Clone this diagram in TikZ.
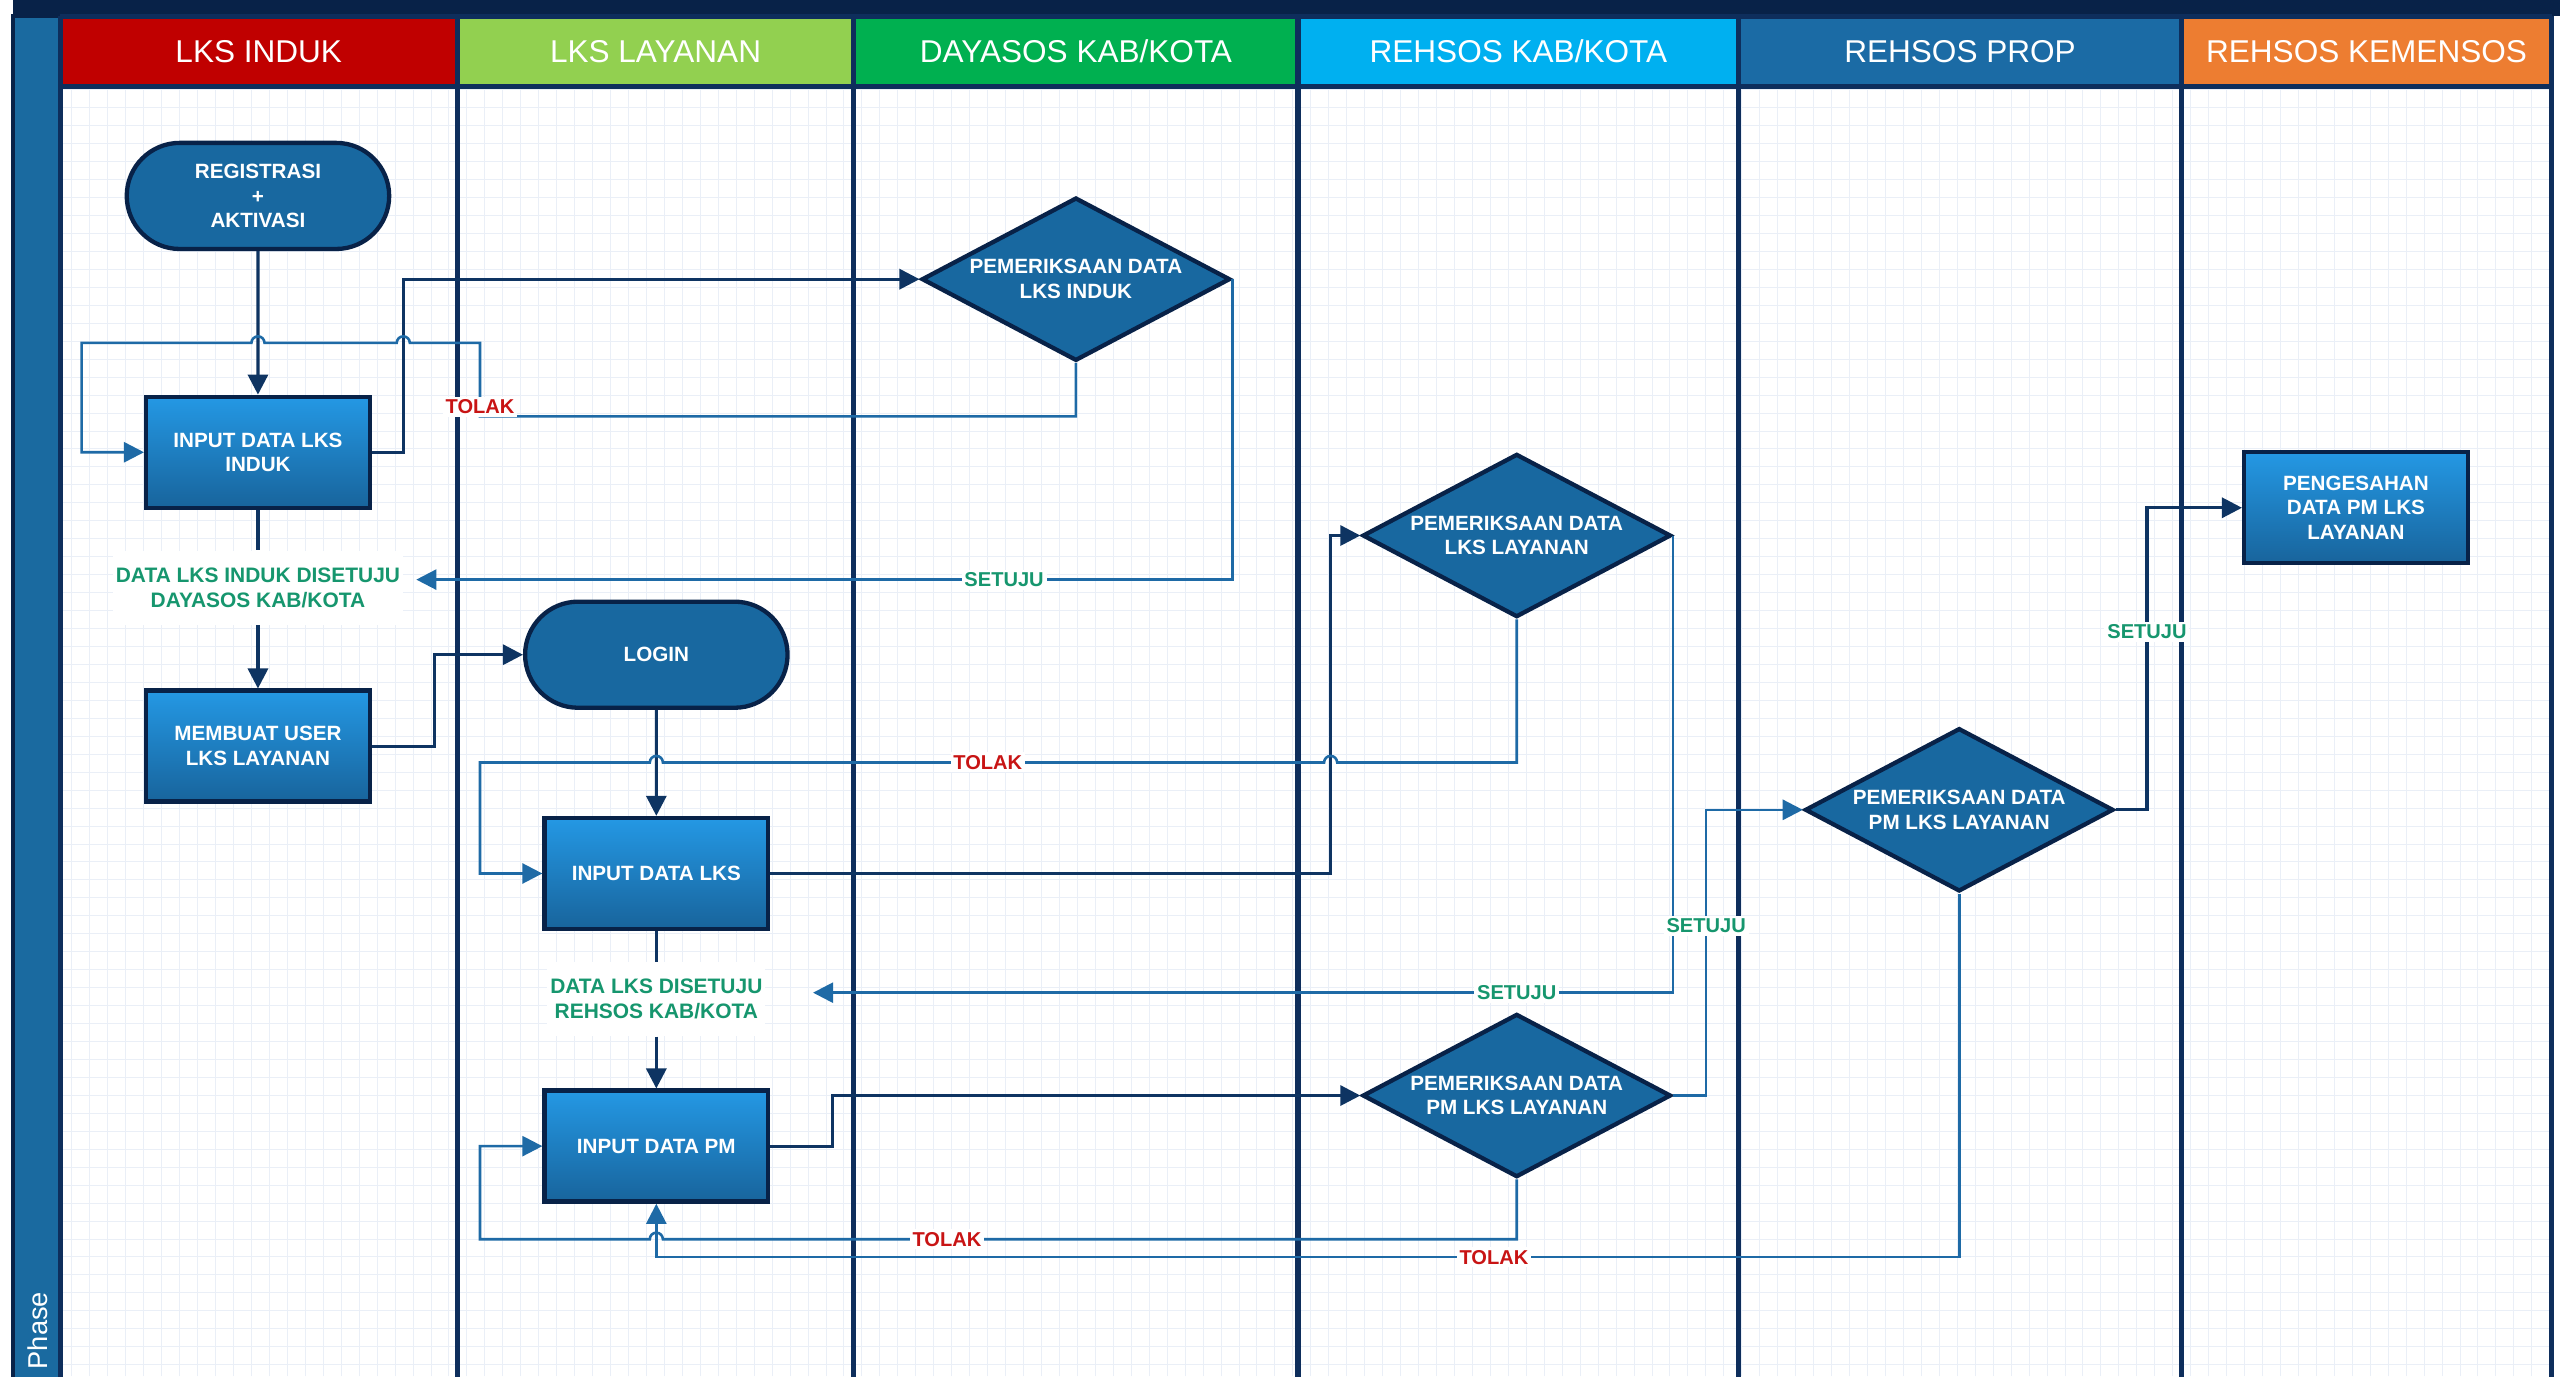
\documentclass[tikz,border=0pt]{standalone}
\usepackage{fontspec}
\setmainfont{Liberation Sans}
\usetikzlibrary{shapes.geometric,shapes.misc,arrows.meta,positioning,calc}

\definecolor{navy}{RGB}{8,34,72}
\definecolor{laneline}{RGB}{14,46,92}
\definecolor{phaseblue}{RGB}{26,106,160}
\definecolor{boxtop}{RGB}{36,152,228}
\definecolor{boxbot}{RGB}{24,100,156}
\definecolor{shapeblue}{RGB}{24,104,160}
\definecolor{flowline}{RGB}{14,52,98}
\definecolor{loopline}{RGB}{30,106,166}
\definecolor{okgreen}{RGB}{22,150,110}
\definecolor{nored}{RGB}{200,20,20}
\definecolor{gridline}{RGB}{234,239,247}
\definecolor{hdrred}{RGB}{192,0,0}
\definecolor{hdrlime}{RGB}{146,208,80}
\definecolor{hdrgreen}{RGB}{0,176,80}
\definecolor{hdrsky}{RGB}{0,176,240}
\definecolor{hdrblue}{RGB}{27,107,165}
\definecolor{hdrorange}{RGB}{237,125,49}

\newcommand{\boxfont}{\bfseries\fontsize{7.2}{8.6}\selectfont}

\begin{document}
\begin{tikzpicture}[x=0.02cm, y=-0.02cm, >={Triangle[length=7pt,width=7pt]},
    proc/.style={rectangle,draw=navy,line width=1.5pt,top color=boxtop,bottom color=boxbot,text=white,font=\boxfont,align=center,minimum width=2.74cm,minimum height=1.36cm,inner sep=1pt},
    term/.style={rounded rectangle,draw=navy,line width=1.5pt,fill=shapeblue,text=white,font=\boxfont,align=center,minimum width=3.45cm,minimum height=1.3cm},
    check/.style={diamond,draw=navy,line width=1.5pt,fill=shapeblue,text=white,font=\boxfont,align=center,minimum width=3.78cm,minimum height=2cm,inner sep=-8pt},
    note/.style={fill=white,text=okgreen,font=\bfseries\fontsize{7.3}{8.6}\selectfont,align=center,minimum height=0.9cm,inner xsep=1pt},
    tolak/.style={fill=white,text=nored,font=\bfseries\fontsize{7}{8}\selectfont,inner sep=1pt},
    setuju/.style={fill=white,text=okgreen,font=\bfseries\fontsize{7}{8}\selectfont,inner sep=1pt},
    head/.style={text=white,font=\fontsize{11}{13}\selectfont,minimum height=0.86cm,inner sep=0pt},
    flow/.style={draw=flowline,line width=1.1pt},
    back/.style={draw=loopline,line width=0.9pt},
    lane/.style={draw=laneline,line width=1.8pt}]
  \useasboundingbox (0,0) rectangle (1568,843);
  % sheet
  \fill[white] (0,0) rectangle (1568,843);
  \draw[gridline,line width=0.3pt,xstep=0.22cm,ystep=0.22cm] (37,53) grid (1563,843);
  \fill[navy] (8,0) rectangle (1568,10);
  \draw[navy,line width=1.5pt,fill=phaseblue] (8,10) rectangle (37,845);
  \node[rotate=90,anchor=west,text=white,font=\fontsize{9.5}{11}\selectfont,inner sep=0pt] at (23,839) (phase) {Phase};

  % lane headers
  \node[head,fill=hdrred,minimum width=4.86cm] at (158.5,31.5) (h1) {LKS INDUK};
  \node[head,fill=hdrlime,minimum width=4.86cm] at (401.5,31.5) (h2) {LKS LAYANAN};
  \node[head,fill=hdrgreen,minimum width=5.44cm] at (659,31.5) (h3) {DAYASOS KAB/KOTA};
  \node[head,fill=hdrsky,minimum width=5.4cm] at (930,31.5) (h4) {REHSOS KAB/KOTA};
  \node[head,fill=hdrblue,minimum width=5.42cm] at (1200.5,31.5) (h5) {REHSOS PROP};
  \node[head,fill=hdrorange,minimum width=4.54cm] at (1449.5,31.5) (h6) {REHSOS KEMENSOS};
  \foreach \x in {37,280,523,795,1065,1336,1563}
    \draw[lane] (\x,10) -- (\x,845);
  \draw[lane] (37,10) -- (1563,10);
  \draw[lane] (37,53) -- (1563,53);

  % steps
  \node[term] at (158,120) (reg) {REGISTRASI\\+\\AKTIVASI};
  \node[proc] at (158,277) (in1) {INPUT DATA LKS\\INDUK};
  \node[note] at (158,360) (ok1) {DATA LKS INDUK DISETUJU\\DAYASOS KAB/KOTA};
  \node[proc] at (158,457) (user) {MEMBUAT USER\\LKS LAYANAN};
  \node[check] at (659,171) (cek1) {PEMERIKSAAN DATA\\LKS INDUK};
  \node[term] at (402,401) (login) {LOGIN};
  \node[proc] at (402,535) (in2) {INPUT DATA LKS};
  \node[note] at (402,612) (ok2) {DATA LKS DISETUJU\\REHSOS KAB/KOTA};
  \node[proc] at (402,702) (inpm) {INPUT DATA PM};
  \node[check] at (929,328) (cek2) {PEMERIKSAAN DATA\\LKS LAYANAN};
  \node[check] at (929,671) (cek3) {PEMERIKSAAN DATA\\PM LKS LAYANAN};
  \node[check] at (1200,496) (cek4) {PEMERIKSAAN DATA\\PM LKS LAYANAN};
  \node[proc] at (1443,311) (sah) {PENGESAHAN\\DATA PM LKS\\LAYANAN};

  % main flow
  \draw[flow,->] (reg) -- (in1);
  \draw[flow,->] (in1.east) -- (247,277) |- (cek1.west);
  \draw[flow] (in1) -- (ok1);
  \draw[flow,->] (ok1) -- (user);
  \draw[flow,->] (user.east) -- (266,457) |- (login.west);
  \draw[flow,->] (login) -- (in2);
  \draw[flow,->] (in2.east) -- (815,535) |- (cek2.west);
  \draw[flow] (in2) -- (ok2);
  \draw[flow,->] (ok2) -- (inpm);
  \draw[flow,->] (inpm.east) -- (510,702) |- (cek3.west);
  \draw[flow,->] (cek4.east) -- (1315,496) |- (sah.west);

  % answers
  \coordinate (s1) at (255,355);
  \coordinate (s2) at (498,608);
  \draw[back,->] (cek1.south) -- (659,255) -- (294,255) -- (294,210) -- (251,210)
    arc[start angle=0,end angle=180,radius=0.08cm] -- (162,210)
    arc[start angle=0,end angle=180,radius=0.08cm] -- (50,210) |- (in1.west);
  \draw[back,->] (cek1.east) |- (s1);
  \draw[back,->] (cek2.south) -- (929,467) -- (819,467)
    arc[start angle=0,end angle=180,radius=0.08cm] -- (406,467)
    arc[start angle=0,end angle=180,radius=0.08cm] -- (294,467) |- (in2.west);
  \draw[back,->] (cek2.east) |- (s2);
  \draw[back,->] (cek3.south) -- (929,759) -- (406,759)
    arc[start angle=0,end angle=180,radius=0.08cm] -- (294,759) |- (inpm.west);
  \draw[back,->] (cek3.east) -- (1045,671) |- (cek4.west);
  \draw[back,->] (cek4.south) |- (402,770) -- (inpm.south);

  \node[tolak] at (294,249) (no1) {TOLAK};
  \node[setuju] at (615,355) (yes1) {SETUJU};
  \node[tolak] at (605,467) (no2) {TOLAK};
  \node[setuju] at (929,608) (yes2) {SETUJU};
  \node[tolak] at (580,759) (no3) {TOLAK};
  \node[setuju] at (1045,567) (yes3) {SETUJU};
  \node[tolak] at (915,770) (no4) {TOLAK};
  \node[setuju] at (1315,387) (yes4) {SETUJU};
\end{tikzpicture}
\end{document}
